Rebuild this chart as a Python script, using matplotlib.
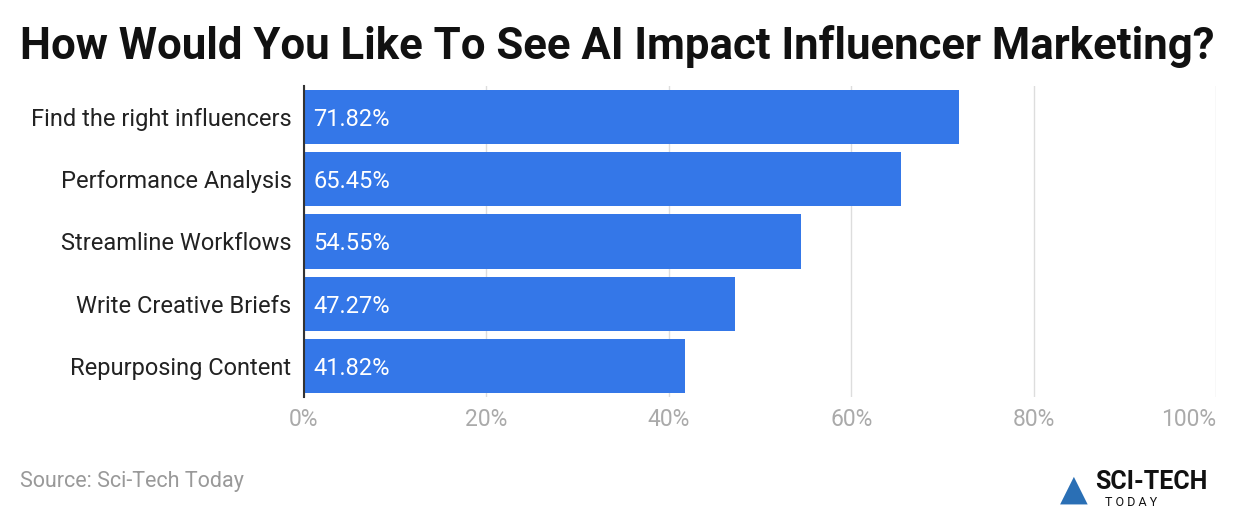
import matplotlib
matplotlib.use("Agg")
import matplotlib.pyplot as plt

categories = ["Find the right influencers", "Performance Analysis", "Streamline Workflows",
              "Write Creative Briefs", "Repurposing Content"]
values = [71.82, 65.45, 54.55, 47.27, 41.82]
xticks = [0, 20, 40, 60, 80, 100]
xticklabels = ["0%", "20%", "40%", "60%", "80%", "100%"]

plt.rcParams["font.family"] = "Roboto"
fig = plt.figure(figsize=(12.4, 5.14), dpi=100)
ax = fig.add_axes([304/1240, 1-397/514, 912/1240, 311/514])
ypos = list(range(len(categories)))
ax.barh(ypos, values, height=0.87, color="#3477E8", zorder=3)
for y, v in zip(ypos, values):
    ax.text(1.0, y, f"{v:.2f}%", color="white", va="center_baseline", ha="left", fontsize=17, zorder=4)
ax.set_ylim(len(categories)-0.5, -0.5)
ax.set_xlim(0, 100)
ax.set_yticks(ypos)
ax.set_yticklabels(categories, fontsize=17, color="#222222", va="center_baseline")
ax.set_xticks(xticks)
ax.set_xticklabels(xticklabels, fontsize=16.5, color="#aaaaaa")
ax.get_xticklabels()[-1].set_ha("right")
ax.get_xticklabels()[-1].set_x(100)
ax.tick_params(length=0, pad=8)
ax.tick_params(axis="y", pad=9)
ax.grid(axis="x", color="#dddddd", linewidth=1, zorder=0)
for s in ["top", "right", "bottom"]:
    ax.spines[s].set_visible(False)
ax.spines["left"].set_color("#333333")
ax.spines["left"].set_linewidth(1.5)
ax.spines["left"].set_zorder(5)

fig.text(20/1240, 1-47/514, "How Would You Like To See AI Impact Influencer Marketing?",
         fontsize=31.5, fontweight="bold", va="center", ha="left", color="#111111")
fig.text(20/1240, 1-481/514, "Source: Sci-Tech Today", fontsize=15.5, color="#999999", va="center")
fig.text(1095/1240, 1-482/514, "SCI-TECH", fontsize=18, fontweight="bold", color="#111111", va="center")
fig.text(1105/1240, 1-502/514, "T O D A Y", fontsize=9, color="#111111", va="center")
fig.text(1060/1240, 1-490/514, "▲", fontsize=26, color="#2a6fb5", va="center", family="DejaVu Sans")
fig.savefig("out.png", dpi=100)
